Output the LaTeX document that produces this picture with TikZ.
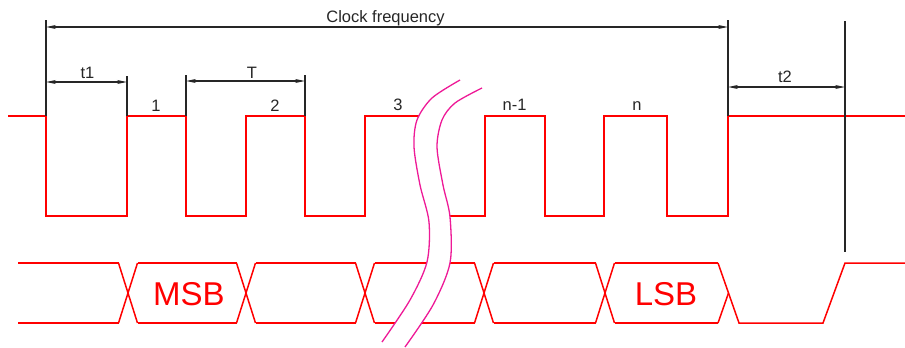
\documentclass[tikz,border=0pt]{standalone}
\usepackage{fontspec}
\setmainfont{Liberation Sans}
\usepackage{tikz}
\usetikzlibrary{arrows.meta}
\tikzstyle{sig} = [red, line width=1.6pt, line join=miter]
\tikzstyle{bus} = [red, line width=1.5pt]
\tikzstyle{tick} = [black!85, line width=1.5pt]
\tikzstyle{dim} = [black!85, line width=1.3pt, {Stealth[length=10pt,width=4pt]}-{Stealth[length=10pt,width=4pt]}]
\tikzstyle{lbl} = [black!85, font=\fontsize{16.5}{16.5}\selectfont, anchor=base, inner sep=0pt]
\tikzstyle{word} = [red, font=\fontsize{33}{33}\selectfont, anchor=base, inner sep=0pt]
\tikzstyle{brk} = [magenta!90!white, line width=1.3pt]

\begin{document}
\begin{tikzpicture}[x=1pt, y=-1pt]
\useasboundingbox (0,0) rectangle (905,348);

% Clock signal
\draw[sig] (8,116) -- (46,116) -- (46,216) -- (127,216) -- (127,116) -- (186,116)
  -- (186,216) -- (246,216) -- (246,116) -- (305,116) -- (305,216) -- (365,216)
  -- (365,116) -- (435,116) -- (435,216) -- (485,216) -- (485,116) -- (545,116)
  -- (545,216) -- (604,216) -- (604,116) -- (667,116) -- (667,216) -- (728,216)
  -- (728,116) -- (905,116);

% Data bus, top and bottom lines
\draw[bus] (18,263) -- (118.5,263);  \draw[bus] (18,323) -- (118.5,323);
\draw[bus] (137.5,263) -- (236.5,263); \draw[bus] (137.5,323) -- (236.5,323);
\draw[bus] (255.5,263) -- (355.5,263); \draw[bus] (255.5,323) -- (355.5,323);
\draw[bus] (374.5,263) -- (474.5,263); \draw[bus] (374.5,323) -- (474.5,323);
\draw[bus] (493.5,263) -- (595.5,263); \draw[bus] (493.5,323) -- (595.5,323);
\draw[bus] (614.5,263) -- (718,263);   \draw[bus] (614.5,323) -- (718,323);

% Data bus, transitions
\draw[bus] (118.5,263) -- (137.5,323); \draw[bus] (118.5,323) -- (137.5,263);
\draw[bus] (236.5,263) -- (255.5,323); \draw[bus] (236.5,323) -- (255.5,263);
\draw[bus] (355.5,263) -- (374.5,323); \draw[bus] (355.5,323) -- (374.5,263);
\draw[bus] (474.5,263) -- (493.5,323); \draw[bus] (474.5,323) -- (493.5,263);
\draw[bus] (595.5,263) -- (614.5,323); \draw[bus] (595.5,323) -- (614.5,263);
\draw[bus] (718,263) -- (739,323) -- (823,323) -- (845,263) -- (905,263);
\draw[bus] (718,323) -- (728.5,293);

% Break in the time axis
\fill[white] plot[smooth] coordinates {(460,80) (432,98) (417,120) (414,147) (420,185)
    (429,222) (427,262) (410,300) (382,342)}
  -- plot[smooth] coordinates {(405,347) (433,305) (450,263) (450,217) (443,185)
    (437,147) (442,120) (455,103) (482,88)} -- cycle;
\draw[brk] plot[smooth] coordinates {(460,80) (432,98) (417,120) (414,147) (420,185)
  (429,222) (427,262) (410,300) (382,342)};
\draw[brk] plot[smooth] coordinates {(482,88) (455,103) (442,120) (437,147) (443,185)
  (450,217) (450,263) (433,305) (405,347)};

% Extension lines
\draw[tick] (46,20) coordinate (a0) -- (46,116);
\draw[tick] (127,76) -- (127,116);
\draw[tick] (186,75) -- (186,116);
\draw[tick] (305,75) -- (305,116);
\draw[tick] (728,20) coordinate (a1) -- (728,116);
\draw[tick] (845,21) -- (845,252);

% Dimension lines
\draw[dim] (46,27) coordinate (f0) -- (728,27) coordinate (f1);
\draw[dim] (46,82) coordinate (p0) -- (127,82) coordinate (p1);
\draw[dim] (186,81) coordinate (q0) -- (305,81) coordinate (q1);
\draw[dim] (728,87) coordinate (r0) -- (845,87) coordinate (r1);

% Labels
\node[lbl] (lclk) at (385.5,22) {Clock frequency};
\node[lbl] (lt1) at (87.5,78) {t1};
\node[lbl] (lT) at (252,78) {T};
\node[lbl] (lt2) at (785,82) {t2};
\node[lbl] (l1) at (156,111) {1};
\node[lbl] (l2) at (275,111) {2};
\node[lbl] (l3) at (398,110) {3};
\node[lbl] (ln1) at (514.5,110) {n-1};
\node[lbl] (ln) at (637,110) {n};

% Bus words
\node[word] (msb) at (189,305) {MSB};
\node[word] (lsb) at (666,305) {LSB};

\end{tikzpicture}
\end{document}
